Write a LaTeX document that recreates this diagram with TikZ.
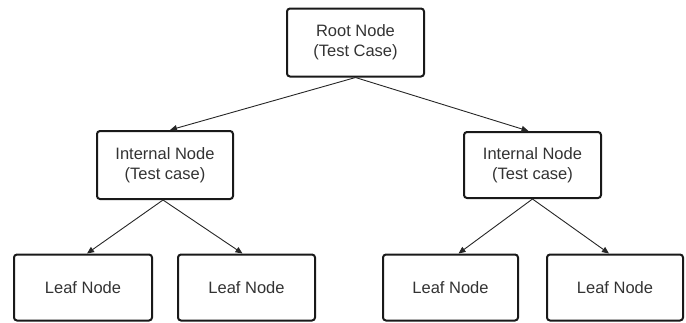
\documentclass[tikz,border=0pt]{standalone}
\usepackage{fontspec}
\setmainfont{Liberation Sans}
\usetikzlibrary{arrows.meta}
\begin{document}
\begin{tikzpicture}[x=1pt,y=-1pt,
  box/.style={draw=black!90, line width=2pt, rounded corners=3pt, fill=white,
    align=center, font=\fontsize{16.5}{20}\selectfont, text=black!80, inner sep=0pt, anchor=center},
  link/.style={draw=black!85, line width=0.9pt, -{Triangle[length=7pt,width=6pt]}}]
\useasboundingbox (0,0) rectangle (686,322);
\node[box, minimum width=137pt, minimum height=68pt] (root) at (355.5,42.5) {Root Node\\(Test Case)};
\node[box, minimum width=136pt, minimum height=68pt] (il) at (165,165) {Internal Node\\(Test case)};
\node[box, minimum width=137pt, minimum height=66pt] (ir) at (532.5,165) {Internal Node\\(Test case)};
\node[box, minimum width=138pt, minimum height=66pt] (l1) at (83,287.5) {Leaf Node};
\node[box, minimum width=137pt, minimum height=66pt] (l2) at (246.5,287.5) {Leaf Node};
\node[box, minimum width=135pt, minimum height=66pt] (l3) at (450.5,287.5) {Leaf Node};
\node[box, minimum width=136pt, minimum height=66pt] (l4) at (615,287.5) {Leaf Node};
\draw[link] (root.south) -- ([xshift=5pt]il.north);
\draw[link] (root.south) -- ([xshift=-4pt]ir.north);
\draw[link] ([xshift=-2pt]il.south) -- ([xshift=4pt]l1.north);
\draw[link] ([xshift=-2pt]il.south) -- ([xshift=-4pt]l2.north);
\draw[link] (ir.south) -- ([xshift=8pt]l3.north);
\draw[link] (ir.south) -- ([xshift=-6pt]l4.north);
\end{tikzpicture}
\end{document}
